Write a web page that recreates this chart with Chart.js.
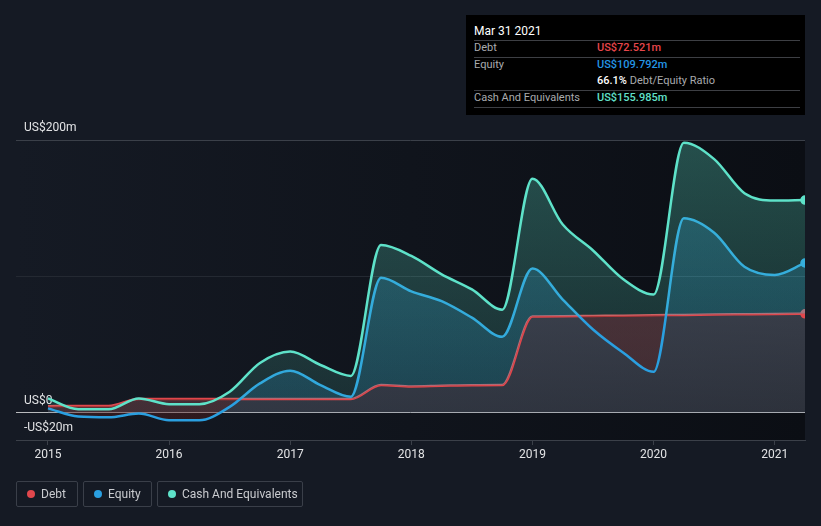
<!DOCTYPE html>
<html>
<head>
<meta charset="utf-8">
<script src="https://cdn.jsdelivr.net/npm/chart.js@4.4.1/dist/chart.umd.min.js"></script>
<style>
  html, body { margin: 0; padding: 0; background: #151a24; }
  body { width: 821px; height: 526px; position: relative; overflow: hidden; font-family: Roboto, "Noto Sans", sans-serif; }
  #wrap { position: absolute; left: 0; top: 0; width: 821px; height: 526px; }
  .tip { position: absolute; left: 466px; top: 15px; width: 339px; height: 100px; background: #000; }
  .tip div { position: absolute; white-space: nowrap; }
  .tip .t { left: 8px; top: 8px; font-size: 12px; line-height: 16px; color: #fff; }
  .tip .sep { left: 8px; width: 326px; height: 1px; background: #3d3f44; }
  .tip .k { left: 8px; font-size: 11px; line-height: 14px; color: #a9abae; }
  .tip .v { left: 131px; font-size: 11px; line-height: 14px; font-weight: 500; }
  .legend { position: absolute; left: 16px; top: 481px; display: flex; gap: 5px; }
  .legend .item { box-sizing: border-box; height: 26px; border: 1px solid #3a3f49; border-radius: 2px;
    display: flex; align-items: center; padding-left: 10px; font-size: 12px; color: #c9cbcf; }
  .legend .dot { width: 8px; height: 8px; border-radius: 50%; margin-right: 6px; }
</style>
</head>
<body>
<div id="wrap"><canvas id="chart"></canvas></div>

<div class="tip">
  <div class="t">Mar 31 2021</div>
  <div class="sep" style="top:25px"></div>
  <div class="k" style="top:26px">Debt</div>
  <div class="v" style="top:26px;color:#e6464b">US$72.521m</div>
  <div class="sep" style="top:42px"></div>
  <div class="k" style="top:43px">Equity</div>
  <div class="v" style="top:43px;color:#2496e6">US$109.792m</div>
  <div class="v" style="top:59px;color:#fff">66.1% <span style="color:#a9abae;font-weight:400">Debt/Equity Ratio</span></div>
  <div class="sep" style="top:75px"></div>
  <div class="k" style="top:76px">Cash And Equivalents</div>
  <div class="v" style="top:76px;color:#62e0ca">US$155.985m</div>
  <div class="sep" style="top:92px"></div>
</div>

<div class="legend">
  <div class="item" style="width:62px"><span class="dot" style="background:#e0474c"></span>Debt</div>
  <div class="item" style="width:69px"><span class="dot" style="background:#2a9fe0"></span>Equity</div>
  <div class="item" style="width:146px"><span class="dot" style="background:#5ee2c9"></span>Cash And Equivalents</div>
</div>

<script>
// quarterly report dates (as fractional years) and values in US$ millions
const quarters = [2015, 2015.25, 2015.5, 2015.75, 2016, 2016.25, 2016.5, 2016.75,
  2017, 2017.25, 2017.5, 2017.75, 2018, 2018.25, 2018.5, 2018.75,
  2019, 2019.25, 2019.5, 2019.75, 2020, 2020.25, 2020.5, 2020.75, 2021, 2021.25];
const debt = [4.8, 5, 5, 10, 10, 10, 10, 10, 10, 10, 10, 20.3, 19.3, 19.8, 20.2, 20.3,
  70.5, 70.8, 71, 71.2, 71.5, 71.7, 72, 72.2, 72.4, 72.521];
const equity = [3.2, -2.8, -3.4, -0.6, -5.5, -5.5, 4.3, 21.5, 30.8, 20.3, 11.7, 99, 89, 81.8, 69.7, 55.7,
  105.7, 83, 61, 44, 30, 142.6, 132, 107, 101, 109.792];
const cash = [10.5, 2.6, 2.6, 10.5, 6.3, 6.3, 15.4, 36.5, 44.9, 35, 27, 123, 115, 101.5, 90.4, 75.6,
  171.6, 138, 119, 97.8, 86.7, 198, 186, 161, 155.6, 155.985];
const years = [2015, 2016, 2017, 2018, 2019, 2020, 2021];
const yTicks = [-20, 0, 100, 200];
const yLabels = { '-20': '-US$20m', '0': 'US$0', '200': 'US$200m' };

const canvas = document.getElementById('chart');
const ctx = canvas.getContext('2d');

function vGrad(top, bottom) {
  const g = ctx.createLinearGradient(0, 140, 0, 440);
  g.addColorStop(0, top);
  g.addColorStop(1, bottom);
  return g;
}

function pts(vals) {
  return vals.map((v, i) => ({ x: quarters[i], y: v }));
}

const lastOnly = c => c.dataIndex === quarters.length - 1 ? 4 : 0;

// darker plot area, fading from the left
const plotBg = {
  id: 'plotBg',
  beforeDraw(chart) {
    const { ctx, chartArea: a } = chart;
    const g = ctx.createLinearGradient(a.left, 0, a.right, 0);
    g.addColorStop(0, '#151a24');
    g.addColorStop(1, '#0b0e14');
    ctx.save();
    ctx.fillStyle = g;
    ctx.fillRect(a.left, a.top, a.right - a.left, a.bottom - a.top);
    ctx.restore();
  }
};

Chart.defaults.font.family = 'Roboto, "Noto Sans", sans-serif';

new Chart(canvas, {
  type: 'line',
  data: {
    datasets: [
      {
        label: 'Debt',
        data: pts(debt),
        borderColor: '#e0474c',
        backgroundColor: vGrad('rgba(112,120,138,0.62)', 'rgba(112,120,138,0.3)'),
        pointBackgroundColor: '#e0474c',
        fill: 'origin',
        order: 2
      },
      {
        label: 'Equity',
        data: pts(equity),
        borderColor: '#2a9fe0',
        backgroundColor: 'rgba(0,0,0,0)',
        pointBackgroundColor: '#2a9fe0',
        fill: {
          target: 0,
          above: vGrad('rgba(36,150,215,0.28)', 'rgba(36,150,215,0.18)'),
          below: vGrad('rgba(95,30,28,0.42)', 'rgba(95,30,28,0.36)')
        },
        order: 1
      },
      {
        label: 'Cash And Equivalents',
        data: pts(cash),
        borderColor: '#5ee2c9',
        backgroundColor: 'rgba(0,0,0,0)',
        pointBackgroundColor: '#5ee2c9',
        fill: {
          target: 0,
          above: vGrad('rgba(94,226,201,0.3)', 'rgba(94,226,201,0.1)'),
          below: 'rgba(0,0,0,0)'
        },
        order: 0
      }
    ]
  },
  options: {
    responsive: true,
    maintainAspectRatio: false,
    animation: false,
    layout: { padding: { top: 140, left: 16, right: 16, bottom: 0 } },
    elements: {
      line: { borderWidth: 2.5, cubicInterpolationMode: 'monotone' },
      point: { radius: lastOnly, hoverRadius: 0, borderColor: '#ffffff', borderWidth: 1.5 }
    },
    plugins: { legend: { display: false }, tooltip: { enabled: false } },
    scales: {
      x: {
        type: 'linear',
        min: 2014.736,
        max: 2021.25,
        afterBuildTicks: s => { s.ticks = years.map(v => ({ value: v })); },
        afterFit: s => { s.height = 86; },
        grid: { drawOnChartArea: false, drawTicks: true, tickLength: 5, color: '#3b4049' },
        border: { display: true, color: '#3b4049' },
        ticks: { color: '#e2e3e5', font: { size: 12 }, padding: 3, callback: v => String(v) }
      },
      y: {
        min: -20,
        max: 200,
        afterBuildTicks: s => { s.ticks = yTicks.map(v => ({ value: v })); },
        afterFit: s => { s.width = 0; },
        border: { display: false },
        grid: {
          drawTicks: false,
          color: c => {
            const v = c.tick.value;
            if (v === 0) return '#b9bbbe';
            if (v === 200) return '#3b4049';
            if (v === 100) return '#242932';
            return 'rgba(0,0,0,0)';
          }
        },
        ticks: {
          mirror: true,
          padding: 8,
          labelOffset: -12,
          color: '#e2e3e5',
          font: { size: 12 },
          callback: v => yLabels[String(v)] || ''
        }
      }
    }
  },
  plugins: [plotBg]
});
</script>
</body>
</html>
